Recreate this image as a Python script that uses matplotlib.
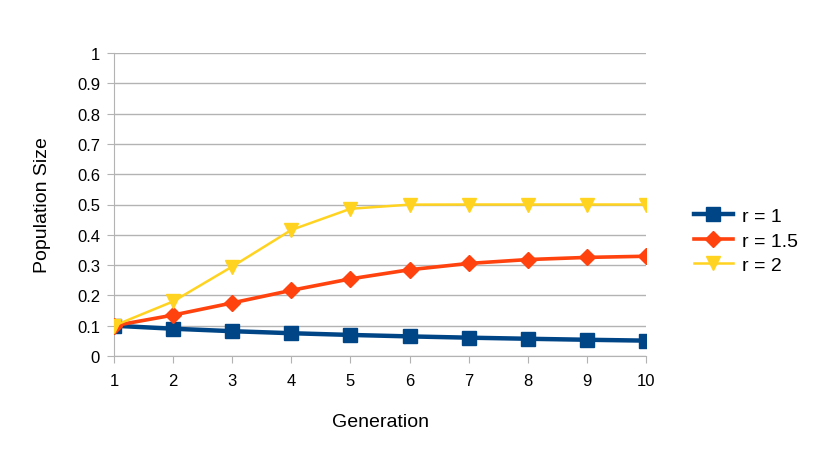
import matplotlib
matplotlib.use("Agg")
import matplotlib.pyplot as plt

generations = [1, 2, 3, 4, 5, 6, 7, 8, 9, 10]
r1 = [0.1, 0.09, 0.0819, 0.0752, 0.0695, 0.0647, 0.0605, 0.0569, 0.0536, 0.0507]
r15 = [0.1, 0.135, 0.1752, 0.2167, 0.2546, 0.2847, 0.3055, 0.3183, 0.3254, 0.3292]
r2 = [0.1, 0.18, 0.2952, 0.4161, 0.4859, 0.4996, 0.5, 0.5, 0.5, 0.5]
labels = ["r = 1", "r = 1.5", "r = 2"]
yticks = [0, 0.1, 0.2, 0.3, 0.4, 0.5, 0.6, 0.7, 0.8, 0.9, 1]

plt.rcParams['font.family'] = ['Liberation Sans', 'DejaVu Sans']

fig = plt.figure(figsize=(8.19, 4.6), dpi=100)
ax = fig.add_axes([114/819, 1 - 357/460, (646-114)/819, (357-54)/460])

ax.plot(generations, r1, color='#004586', lw=3.2, marker='s', ms=10.5, label=labels[0], zorder=3)
ax.plot(generations, r15, color='#ff420e', lw=2.6, marker='D', ms=8, label=labels[1], zorder=3)
ax.plot(generations, r2, color='#ffd320', lw=1.8, marker='v', ms=10.5, label=labels[2], zorder=3)

ax.set_xlim(1, 10)
ax.set_ylim(0, 1)
ax.set_xticks(generations)
ax.set_yticks(yticks)
ax.set_yticklabels([f"{v:g}" for v in yticks])
ax.grid(axis='y', color='#b3b3b3', lw=1)
ax.set_axisbelow(True)
for s in ['top', 'right']:
    ax.spines[s].set_visible(False)
for s in ['left', 'bottom']:
    ax.spines[s].set_color('#b3b3b3')
ax.tick_params(axis='both', colors='#b3b3b3', length=5, labelcolor='black', labelsize=12)
ax.tick_params(axis='x', pad=7)
ax.tick_params(axis='y', pad=5)
ax.set_xlabel("Generation", fontsize=14, labelpad=18)
ax.set_ylabel("Population Size", fontsize=14, labelpad=19)

leg = ax.legend(loc='center left', bbox_to_anchor=(1.075, 0.38), frameon=False, fontsize=14,
                handlelength=2.0, labelspacing=0.35, handletextpad=0.5, borderaxespad=0)

fig.savefig("out.png", dpi=100, facecolor='white')
